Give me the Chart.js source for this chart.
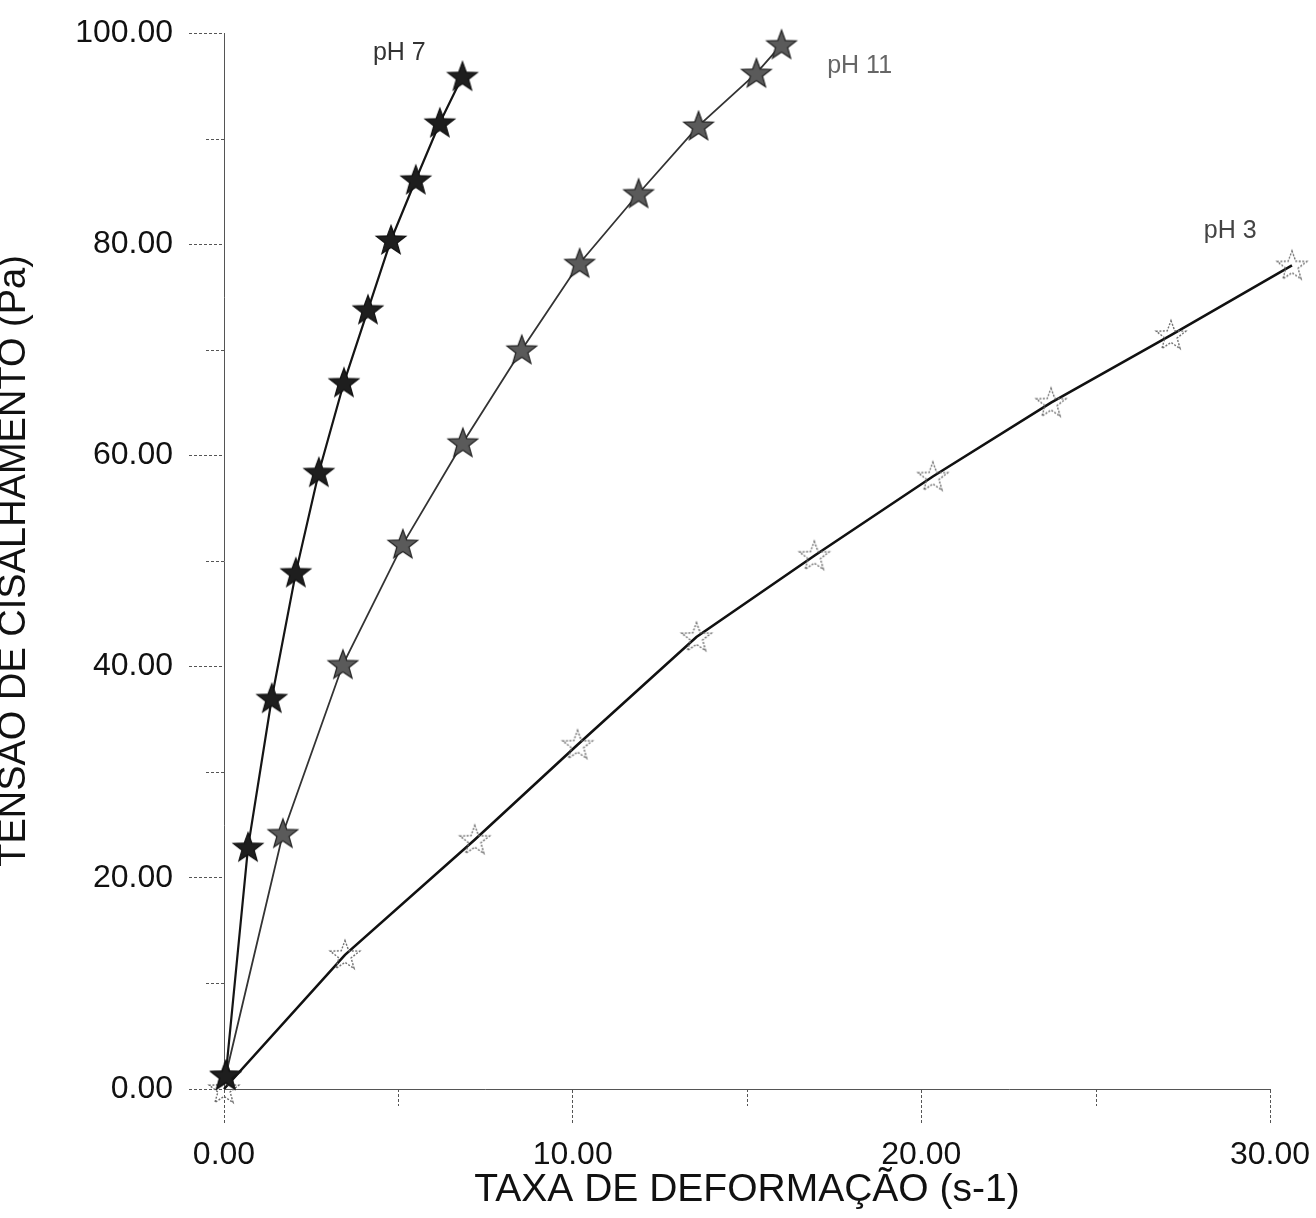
<!DOCTYPE html>
<html><head><meta charset="utf-8">
<script src="https://cdn.jsdelivr.net/npm/chart.js@4.4.0/dist/chart.umd.min.js"></script>
<style>html,body{margin:0;padding:0;background:#fff;overflow:hidden}#wrap{position:absolute;left:0;top:0;width:1316px;height:1218px}</style>
</head><body><div id="wrap"><canvas id="c" width="1316" height="1218"></canvas></div>
<script>
// ---- data ----
const ph7X  = [0.05, 0.69, 1.37, 2.06, 2.72, 3.44, 4.13, 4.79, 5.50, 6.19, 6.84];
const ph7Y  = [1.3, 22.9, 37.0, 48.9, 58.4, 66.9, 73.8, 80.4, 86.1, 91.5, 95.9];
const ph11X = [0.05, 1.69, 3.41, 5.13, 6.85, 8.54, 10.20, 11.89, 13.61, 15.27, 15.99];
const ph11Y = [1.3, 24.2, 40.2, 51.6, 61.2, 70.0, 78.2, 84.8, 91.2, 96.2, 98.9];
const ph3X  = [0.0, 3.47, 7.19, 10.14, 13.55, 16.93, 20.33, 23.72, 27.16, 30.63];
const ph3Y  = [0.0, 12.7, 23.6, 32.6, 42.8, 50.5, 58.0, 65.0, 71.4, 78.0];
const xMajorTicks = [0, 10, 20, 30];
const xMinorTicks = [5, 15, 25];
const yMajorTicks = [0, 20, 40, 60, 80, 100];
const yMinorTicks = [10, 30, 50, 70, 90];
const seriesNames = ['pH 7', 'pH 11', 'pH 3'];
const labelAnchorX = [4.27, 17.3, 28.1];
const labelAnchorY = [97.4, 96.2, 80.6];
const xTitle = 'TAXA DE DEFORMAÇÃO (s-1)';
const yTitle = 'TENSÃO DE CISALHAMENTO (Pa)';

const FAM = '"Liberation Sans", Arial, sans-serif';

function pts(xs, ys) { return xs.map((x, i) => ({x: x, y: ys[i]})); }

function starImg(fill, stroke, dash, lw) {
  const s = 36, c = document.createElement('canvas');
  c.width = c.height = s;
  const g = c.getContext('2d');
  const R = 15.5, r = 6.4, cx = s / 2, cy = s / 2 + 1;
  g.beginPath();
  for (let i = 0; i < 10; i++) {
    const a = -Math.PI / 2 + i * Math.PI / 5;
    const rr = i % 2 ? r : R;
    g.lineTo(cx + rr * Math.cos(a), cy + rr * Math.sin(a));
  }
  g.closePath();
  if (fill) { g.fillStyle = fill; g.fill(); }
  g.setLineDash(dash || []);
  g.lineWidth = lw; g.strokeStyle = stroke; g.stroke();
  return c;
}
const starDark = starImg('#1e1e1e', '#111', null, 1.2);
const starGray = starImg('#5a5a5a', '#222', null, 1.2);
const starHollow = starImg(null, '#6e6e6e', [2, 1.5], 1.4);

const extras = {
  id: 'extras',
  afterDraw(chart) {
    const {ctx, scales: {x, y}} = chart;
    ctx.save();
    ctx.strokeStyle = '#555'; ctx.lineWidth = 1; ctx.setLineDash([3, 2]);
    xMinorTicks.forEach(v => {
      const px = Math.round(x.getPixelForValue(v)) + 0.5;
      ctx.beginPath(); ctx.moveTo(px, x.top); ctx.lineTo(px, x.top + 17); ctx.stroke();
    });
    yMinorTicks.forEach(v => {
      const py = Math.round(y.getPixelForValue(v)) + 0.5;
      ctx.beginPath(); ctx.moveTo(y.right, py); ctx.lineTo(y.right - 18, py); ctx.stroke();
    });
    ctx.setLineDash([]);
    ctx.font = '25px ' + FAM;
    ctx.textAlign = 'left'; ctx.textBaseline = 'alphabetic';
    const cols = ['#333', '#666', '#444'];
    seriesNames.forEach((t, i) => {
      ctx.fillStyle = cols[i];
      ctx.fillText(t, x.getPixelForValue(labelAnchorX[i]), y.getPixelForValue(labelAnchorY[i]));
    });
    ctx.restore();
  }
};

new Chart(document.getElementById('c'), {
  type: 'scatter',
  data: {
    datasets: [
      {label: seriesNames[0], data: pts(ph7X, ph7Y), showLine: true, borderColor: '#151515', borderWidth: 2.2,
       pointStyle: starDark, pointRadius: 30, clip: false, tension: 0},
      {label: seriesNames[1], data: pts(ph11X, ph11Y), showLine: true, borderColor: '#333', borderWidth: 1.8,
       pointStyle: starGray, pointRadius: 30, clip: false, tension: 0},
      {label: seriesNames[2], data: pts(ph3X, ph3Y), showLine: true, borderColor: '#111', borderWidth: 2.6,
       pointStyle: starHollow, pointRadius: 30, clip: false, tension: 0}
    ]
  },
  options: {
    responsive: false, animation: false, devicePixelRatio: 1,
    layout: {autoPadding: false, padding: {top: 33, right: 46, left: 0, bottom: 0}},
    plugins: {legend: {display: false}, tooltip: {enabled: false}},
    scales: {
      x: {
        type: 'linear', min: 0, max: 30,
        afterBuildTicks: s => { s.ticks = xMajorTicks.map(v => ({value: v})); },
        afterFit: s => { s.height = 129; s.paddingLeft = 0; s.paddingRight = 0; },
        ticks: {callback: v => Number(v).toFixed(2), font: {size: 32, family: FAM}, color: '#111',
                padding: 12, maxRotation: 0, autoSkip: false},
        grid: {drawOnChartArea: false, tickLength: 35, color: '#555', lineWidth: 1, tickBorderDash: [3, 2]},
        border: {display: true, color: '#555', width: 1, dash: [4, 2]},
        title: {display: true, text: xTitle, font: {size: 39, family: FAM}, color: '#111',
                padding: {top: 0, bottom: 4}}
      },
      y: {
        type: 'linear', min: 0, max: 100,
        afterBuildTicks: s => { s.ticks = yMajorTicks.map(v => ({value: v})); },
        afterFit: s => { s.width = 224; s.paddingTop = 0; s.paddingBottom = 0; },
        ticks: {callback: v => Number(v).toFixed(2), font: {size: 32, family: FAM}, color: '#111',
                padding: 16, autoSkip: false},
        grid: {drawOnChartArea: false, tickLength: 35, color: '#555', lineWidth: 1, tickBorderDash: [3, 2]},
        border: {display: true, color: '#555', width: 1, dash: [4, 2]},
        title: {display: true, text: yTitle, font: {size: 38, family: FAM}, color: '#111',
                padding: {top: -8, bottom: 0}}
      }
    }
  },
  plugins: [extras]
});
</script></body></html>
